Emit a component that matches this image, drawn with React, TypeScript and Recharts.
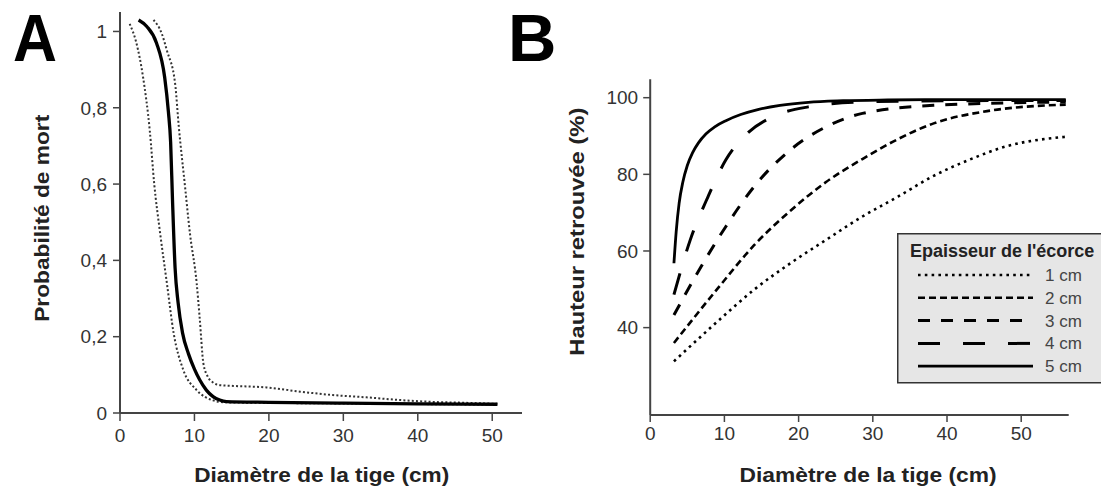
import React from 'react';
import { LineChart, Line, XAxis, YAxis, Legend, Label } from 'recharts';

const FONT = '"Liberation Sans", Arial, Helvetica, sans-serif';

// ---------- Panel A : probabilité de mort ----------
const mortMeanX = [2.5, 3.6, 4.9, 6.0, 6.5, 6.8, 7.05, 7.4, 7.8, 8.4, 9.2, 10.0, 10.7, 11.6, 12.5, 13.4, 14.3, 20, 30, 40, 50.7];
const mortMeanY = [1.03, 1.013, 0.97, 0.88, 0.79, 0.71, 0.56, 0.38, 0.29, 0.21, 0.155, 0.115, 0.087, 0.06, 0.043, 0.034, 0.03, 0.028, 0.026, 0.024, 0.023];

const mortLowX = [1.3, 2.2, 3.1, 4.0, 4.6, 5.4, 6.3, 7.2, 8.5, 10.3, 12.5, 14, 30, 50.7];
const mortLowY = [1.02, 0.97, 0.88, 0.74, 0.6, 0.47, 0.34, 0.21, 0.113, 0.06, 0.033, 0.028, 0.025, 0.022];

const mortHighX = [4.5, 5.6, 6.3, 7.4, 7.9, 8.7, 9.4, 10.3, 10.7, 11.2, 11.8, 12.5, 13.4, 15.2, 19.7, 24.2, 28.6, 33.1, 37.6, 42.1, 46, 50.7];
const mortHighY = [1.03, 0.995, 0.95, 0.864, 0.75, 0.6, 0.47, 0.34, 0.25, 0.13, 0.095, 0.08, 0.073, 0.071, 0.067, 0.056, 0.047, 0.041, 0.034, 0.029, 0.027, 0.024];

const aXTicks = [0, 10, 20, 30, 40, 50];
const aYTicks = [0, 0.2, 0.4, 0.6, 0.8, 1];

// ---------- Panel B : hauteur retrouvée ----------
const bark1X = [3.2, 9.3, 14, 18.9, 23.7, 28.6, 33.4, 38.2, 43, 47.8, 56];
const bark1Y = [31.2, 42, 49.9, 56.8, 62.9, 69, 74.2, 79.6, 83.8, 87.2, 89.8];

const bark2X = [3.2, 9.3, 14, 18.9, 23.7, 28.6, 33.4, 38.2, 45.4, 56];
const bark2Y = [36, 50.7, 61.5, 70.5, 78, 84, 89.2, 93.3, 96.5, 98.2];

const bark3X = [3.2, 6.85, 10.2, 14, 18.9, 23.7, 28.6, 38.2, 56];
const bark3Y = [43.3, 55.9, 66.4, 76.8, 86.4, 92.4, 95.9, 98, 98.9];

const bark4X = [3.2, 5.4, 7.8, 10.2, 13.1, 16.5, 21.3, 28.6, 40, 56];
const bark4Y = [48.6, 62.9, 74.2, 83.8, 90.7, 95, 97.6, 98.9, 99.2, 99.3];

const bark5X = [3.2, 3.5, 3.9, 4.4, 5.0, 5.7, 6.5, 7.5, 8.7, 10.2, 12.2, 14.5, 17.5, 21.3, 26, 32, 40, 56];
const bark5Y = [56.8, 65, 72.5, 78, 82.3, 85.6, 88.2, 90.5, 92.4, 94, 95.6, 96.9, 98, 98.8, 99.2, 99.4, 99.5, 99.5];

const barkLabels = ['1 cm', '2 cm', '3 cm', '4 cm', '5 cm'];
const bXTicks = [0, 10, 20, 30, 40, 50];
const bYTicks = [40, 60, 80, 100];

const toPoints = (xs: number[], ys: number[]) => xs.map((x, i) => ({ x, y: ys[i] }));

const barkStyles = [
  { dash: '2.6 4.2', width: 2.6 },
  { dash: '7 4', width: 2.6 },
  { dash: '12 11', width: 3 },
  { dash: '22 23', width: 3 },
  { dash: undefined as string | undefined, width: 2.8 },
];
const barkSeries = [
  toPoints(bark1X, bark1Y),
  toPoints(bark2X, bark2Y),
  toPoints(bark3X, bark3Y),
  toPoints(bark4X, bark4Y),
  toPoints(bark5X, bark5Y),
];

const tickStyle = { fontSize: 19, fill: '#333', fontFamily: FONT };
const axisStroke = { stroke: '#444', strokeWidth: 2 };
const tickLineStyle = { stroke: '#444', strokeWidth: 1.5 };

const fmtComma = (v: number) => String(v).replace('.', ',');

const LegendBox = () => (
  <svg width={206} height={151} style={{ display: 'block', overflow: 'visible' }}>
    <rect x={0.75} y={0.75} width={206} height={149} fill="#e6e6e6" stroke="#333" strokeWidth={1.5} />
    <text x={13} y={24} fontSize={18} fontWeight="bold" fontFamily={FONT} fill="#222">
      Epaisseur de l'écorce
    </text>
    {barkLabels.map((lab, i) => {
      const cy = 42 + i * 22.8;
      return (
        <g key={lab}>
          <line x1={21} x2={136} y1={cy} y2={cy} stroke="#000" strokeWidth={barkStyles[i].width}
            strokeDasharray={barkStyles[i].dash} />
          <text x={148} y={cy + 6} fontSize={17} fontFamily={FONT} fill="#444">{lab}</text>
        </g>
      );
    })}
  </svg>
);

export default function App() {
  return (
    <div style={{ position: 'absolute', left: 0, top: 0, width: 1101, height: 488, background: '#fff', overflow: 'hidden' }}>
      <div style={{ position: 'absolute', left: 0, top: 0 }}>
        <LineChart width={540} height={488} margin={{ top: 12, right: 18, bottom: 0, left: 50 }}>
          <XAxis type="number" dataKey="x" domain={[0, 54]} ticks={aXTicks} height={75}
            axisLine={axisStroke} tickLine={tickLineStyle} tickSize={8} tickMargin={8} tick={tickStyle}>
            <Label content={() => (
              <text x={321.7} y={482} textAnchor="middle" fontSize={21} fontWeight="bold" fontFamily={FONT}
                fill="#222" textLength={255} lengthAdjust="spacingAndGlyphs">Diamètre de la tige (cm)</text>
            )} />
          </XAxis>
          <YAxis type="number" dataKey="y" domain={[0, 1.051]} ticks={aYTicks} width={70}
            axisLine={axisStroke} tickLine={tickLineStyle} tickSize={7} tickMargin={6} tick={tickStyle}
            tickFormatter={fmtComma}>
            <Label content={() => (
              <text x={49.5} y={218.3} transform="rotate(-90 49.5 218.3)" textAnchor="middle" fontSize={21}
                fontWeight="bold" fontFamily={FONT} fill="#222" textLength={207}
                lengthAdjust="spacingAndGlyphs">Probabilité de mort</text>
            )} />
          </YAxis>
          <Line data={toPoints(mortLowX, mortLowY)} dataKey="y" type="monotone" dot={false} stroke="#333"
            strokeWidth={2} strokeDasharray="2 2.2" isAnimationActive={false} />
          <Line data={toPoints(mortHighX, mortHighY)} dataKey="y" type="monotone" dot={false} stroke="#333"
            strokeWidth={2} strokeDasharray="2 2.2" isAnimationActive={false} />
          <Line data={toPoints(mortMeanX, mortMeanY)} dataKey="y" type="monotone" dot={false} stroke="#000"
            strokeWidth={3.3} isAnimationActive={false} />
        </LineChart>
      </div>
      <div style={{ position: 'absolute', left: 540, top: 0 }}>
        <LineChart width={561} height={488} margin={{ top: 79.3, right: 32.3, bottom: 0, left: 40.2 }}>
          <XAxis type="number" dataKey="x" domain={[0, 56.4]} ticks={bXTicks} height={73}
            axisLine={axisStroke} tickLine={tickLineStyle} tickSize={7} tickMargin={5} tick={tickStyle}>
            <Label content={() => (
              <text x={328} y={482} textAnchor="middle" fontSize={21} fontWeight="bold" fontFamily={FONT}
                fill="#222" textLength={257} lengthAdjust="spacingAndGlyphs">Diamètre de la tige (cm)</text>
            )} />
          </XAxis>
          <YAxis type="number" dataKey="y" domain={[17.2, 104.8]} ticks={bYTicks} width={70}
            axisLine={axisStroke} tickLine={tickLineStyle} tickSize={7} tickMargin={5} tick={tickStyle}>
            <Label content={() => (
              <text x={44} y={231.7} transform="rotate(-90 44 231.7)" textAnchor="middle" fontSize={21}
                fontWeight="bold" fontFamily={FONT} fill="#222" textLength={248}
                lengthAdjust="spacingAndGlyphs">Hauteur retrouvée (%)</text>
            )} />
          </YAxis>
          {barkSeries.map((pts, i) => (
            <Line key={barkLabels[i]} name={barkLabels[i]} data={pts} dataKey="y" type="monotone" dot={false}
              stroke="#000" strokeWidth={barkStyles[i].width} strokeDasharray={barkStyles[i].dash}
              isAnimationActive={false} />
          ))}
          <Legend layout="horizontal" verticalAlign="middle" content={() => <LegendBox />}
            wrapperStyle={{ position: 'absolute', left: 357, top: 233, width: 206, height: 151 }} />
        </LineChart>
      </div>
      <svg width={1101} height={488} style={{ position: 'absolute', left: 0, top: 0, pointerEvents: 'none' }}>
        <text x={13} y={61} fontSize={67} fontWeight="bold" fontFamily={FONT} fill="#000" textLength={44}
          lengthAdjust="spacingAndGlyphs">A</text>
        <text x={508} y={61} fontSize={67} fontWeight="bold" fontFamily={FONT} fill="#000">B</text>
      </svg>
    </div>
  );
}
